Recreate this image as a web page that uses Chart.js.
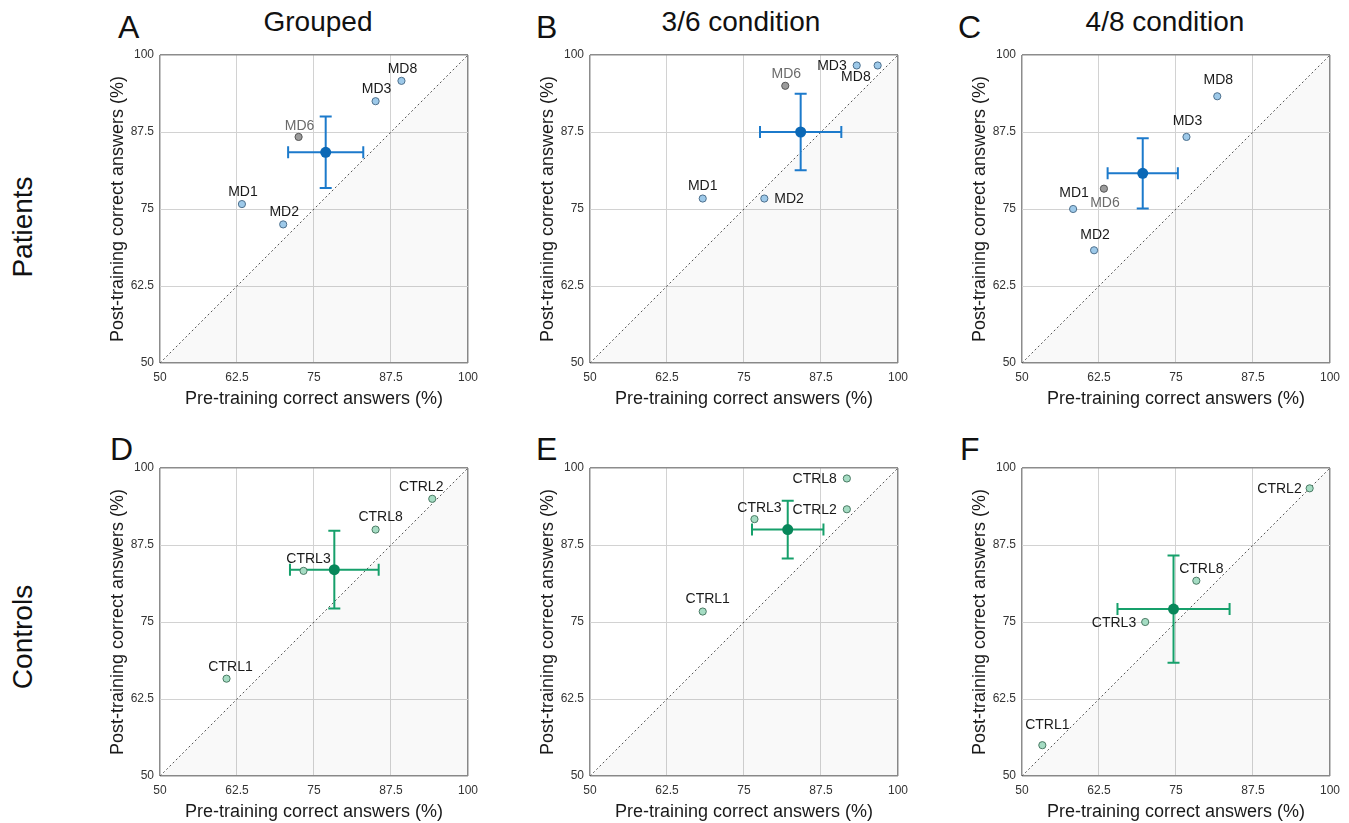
<!DOCTYPE html>
<html>
<head>
<meta charset="utf-8">
<script src="https://cdn.jsdelivr.net/npm/chart.js@4.4.1/dist/chart.umd.min.js"></script>
<style>
  body { margin: 0; background: #fff; width: 1349px; height: 823px; position: relative; overflow: hidden;
         font-family: 'Liberation Sans', Arial, sans-serif; color: #111; }
  canvas { position: absolute; }
  .letter { position: absolute; font-size: 32px; line-height: 1; }
  .title { position: absolute; width: 400px; font-size: 28px; line-height: 1; text-align: center; }
  .row { position: absolute; font-size: 28px; line-height: 1; white-space: nowrap;
         transform: translate(-50%, -50%) rotate(-90deg); }
</style>
</head>
<body>
<div class="row" style="left:23px; top:227px;">Patients</div>
<div class="row" style="left:23px; top:637px;">Controls</div>

<div class="letter" style="left:118px; top:11px;">A</div>
<div class="letter" style="left:536px; top:11px;">B</div>
<div class="letter" style="left:958px; top:11px;">C</div>
<div class="letter" style="left:110px; top:433px;">D</div>
<div class="letter" style="left:536px; top:433px;">E</div>
<div class="letter" style="left:960px; top:433px;">F</div>

<div class="title" style="left:118px; top:8px;">Grouped</div>
<div class="title" style="left:541px; top:8px;">3/6 condition</div>
<div class="title" style="left:965px; top:8px;">4/8 condition</div>

<canvas id="chartA" width="387" height="381" style="left:98px; top:35px;"></canvas>
<canvas id="chartB" width="387" height="381" style="left:528px; top:35px;"></canvas>
<canvas id="chartC" width="387" height="381" style="left:960px; top:35px;"></canvas>
<canvas id="chartD" width="387" height="381" style="left:98px; top:448px;"></canvas>
<canvas id="chartE" width="387" height="381" style="left:528px; top:448px;"></canvas>
<canvas id="chartF" width="387" height="381" style="left:960px; top:448px;"></canvas>

<script>
// axis ticks shared by every panel
const tickValues = [50, 62.5, 75, 87.5, 100];
const tickLabels = ['50', '62.5', '75', '87.5', '100'];

// patients (MD6 is shown but left out of the group mean)
const patientIds = ['MD1', 'MD2', 'MD3', 'MD6', 'MD8'];
const excludedPatient = 'MD6';
const patientPreGrouped = [63.3, 70.0, 85.0, 72.5, 89.2];
const patientPostGrouped = [75.8, 72.5, 92.5, 86.7, 95.8];
const patientPre36 = [68.3, 78.3, 93.3, 81.7, 96.7];
const patientPost36 = [76.7, 76.7, 98.3, 95.0, 98.3];
const patientPre48 = [58.3, 61.7, 76.7, 63.3, 81.7];
const patientPost48 = [75.0, 68.3, 86.7, 78.3, 93.3];

// patient group means [pre, post] and SEM [pre, post]
const patientMeanGrouped = [76.9, 84.2];
const patientSemGrouped = [6.1, 5.8];
const patientMean36 = [84.2, 87.5];
const patientSem36 = [6.6, 6.2];
const patientMean48 = [69.6, 80.8];
const patientSem48 = [5.7, 5.7];

// controls
const controlIds = ['CTRL1', 'CTRL2', 'CTRL3', 'CTRL8'];
const controlPreGrouped = [60.8, 94.2, 73.3, 85.0];
const controlPostGrouped = [65.8, 95.0, 83.3, 90.0];
const controlPre36 = [68.3, 91.7, 76.7, 91.7];
const controlPost36 = [76.7, 93.3, 91.7, 98.3];
const controlPre48 = [53.3, 96.7, 70.0, 78.3];
const controlPost48 = [55.0, 96.7, 75.0, 81.7];

const controlMeanGrouped = [78.3, 83.5];
const controlSemGrouped = [7.2, 6.3];
const controlMean36 = [82.1, 90.0];
const controlSem36 = [5.8, 4.7];
const controlMean48 = [74.6, 77.1];
const controlSem48 = [9.1, 8.7];

const FONT = "'Liberation Sans', Arial, sans-serif";

const colors = {
  patients: { point: '#9dc9e9', pointBorder: '#4d6f8c', mean: '#0b68b6', bar: '#1c7acb' },
  controls: { point: '#a5dcc3', pointBorder: '#4a7a64', mean: '#08875a', bar: '#16a06b' }
};

// label offsets per point: [dx, dy, textAlign]
const panels = [
  { id: 'chartA', group: 'patients', ids: patientIds, pre: patientPreGrouped, post: patientPostGrouped,
    mean: patientMeanGrouped, sem: patientSemGrouped,
    labels: [[1, -12, 'center'], [1, -12, 'center'], [1, -12, 'center'], [1, -11, 'center'], [1, -12, 'center']] },
  { id: 'chartB', group: 'patients', ids: patientIds, pre: patientPre36, post: patientPost36,
    mean: patientMean36, sem: patientSem36,
    labels: [[0, -12, 'center'], [10, 1, 'left'], [-10, 1, 'right'], [1, -12, 'center'], [-7, 12, 'right']] },
  { id: 'chartC', group: 'patients', ids: patientIds, pre: patientPre48, post: patientPost48,
    mean: patientMean48, sem: patientSem48,
    labels: [[1, -16, 'center'], [1, -15, 'center'], [1, -16, 'center'], [1, 14, 'center'], [1, -16, 'center']] },
  { id: 'chartD', group: 'controls', ids: controlIds, pre: controlPreGrouped, post: controlPostGrouped,
    mean: controlMeanGrouped, sem: controlSemGrouped,
    labels: [[4, -12, 'center'], [-11, -12, 'center'], [5, -12, 'center'], [5, -12, 'center']] },
  { id: 'chartE', group: 'controls', ids: controlIds, pre: controlPre36, post: controlPost36,
    mean: controlMean36, sem: controlSem36,
    labels: [[5, -12, 'center'], [-10, 1, 'right'], [5, -11, 'center'], [-10, 1, 'right']] },
  { id: 'chartF', group: 'controls', ids: controlIds, pre: controlPre48, post: controlPost48,
    mean: controlMean48, sem: controlSem48,
    labels: [[5, -20, 'center'], [-8, 1, 'right'], [-9, 1, 'right'], [5, -12, 'center']] }
];

// SEM crosses, drawn right after the diagonal so the dots sit on top
const errorBars = {
  id: 'errorBars',
  afterDatasetDraw(chart, args) {
    const ds = chart.data.datasets[args.index];
    if (ds.role !== 'diagonal') return;
    const p = chart.options.plugins.errorBars;
    const x = chart.scales.x, y = chart.scales.y;
    const cx = x.getPixelForValue(p.mean[0]), cy = y.getPixelForValue(p.mean[1]);
    const x0 = x.getPixelForValue(p.mean[0] - p.sem[0]), x1 = x.getPixelForValue(p.mean[0] + p.sem[0]);
    const y0 = y.getPixelForValue(p.mean[1] - p.sem[1]), y1 = y.getPixelForValue(p.mean[1] + p.sem[1]);
    const cap = 6;
    const ctx = chart.ctx;
    ctx.save();
    ctx.strokeStyle = p.color;
    ctx.lineWidth = 2;
    ctx.beginPath();
    ctx.moveTo(x0, cy); ctx.lineTo(x1, cy);
    ctx.moveTo(cx, y0); ctx.lineTo(cx, y1);
    ctx.moveTo(x0, cy - cap); ctx.lineTo(x0, cy + cap);
    ctx.moveTo(x1, cy - cap); ctx.lineTo(x1, cy + cap);
    ctx.moveTo(cx - cap, y0); ctx.lineTo(cx + cap, y0);
    ctx.moveTo(cx - cap, y1); ctx.lineTo(cx + cap, y1);
    ctx.stroke();
    ctx.restore();
  }
};

// subject names next to their dots
const pointLabels = {
  id: 'pointLabels',
  afterDatasetsDraw(chart) {
    const idx = chart.data.datasets.findIndex(d => d.role === 'subjects');
    const meta = chart.getDatasetMeta(idx);
    const p = chart.options.plugins.pointLabels;
    const ctx = chart.ctx;
    ctx.save();
    ctx.font = '14px ' + FONT;
    ctx.textBaseline = 'middle';
    meta.data.forEach((el, i) => {
      const [dx, dy, align] = p.offsets[i];
      ctx.textAlign = align;
      ctx.fillStyle = p.names[i] === excludedPatient ? '#6b6b6b' : '#1a1a1a';
      ctx.fillText(p.names[i], el.x + dx, el.y + dy);
    });
    ctx.restore();
  }
};

function axis(titleText, isX) {
  return {
    type: 'linear',
    min: 50,
    max: 100,
    afterBuildTicks: scale => { scale.ticks = tickValues.map(v => ({ value: v })); },
    afterFit: scale => { if (isX) scale.height = 53; else scale.width = 62; },
    ticks: {
      callback: (v, i) => tickLabels[i],
      font: { family: FONT, size: 12 },
      color: '#333',
      padding: isX ? 7 : 6,
      maxRotation: 0,
      autoSkip: false
    },
    grid: {
      drawTicks: false,
      color: c => (c.tick && (c.tick.value === 50 || c.tick.value === 100)) ? '#8c8c8c' : '#d2d2d2',
      lineWidth: c => (c.tick && (c.tick.value === 50 || c.tick.value === 100)) ? 1.5 : 1
    },
    border: { display: false },
    title: {
      display: true,
      text: titleText,
      color: '#1a1a1a',
      font: { family: FONT, size: 18 },
      padding: isX ? { top: 0, bottom: 6 } : { top: 9, bottom: 0 }
    }
  };
}

panels.forEach(panel => {
  const c = colors[panel.group];
  const subjects = panel.ids.map((name, i) => ({ x: panel.pre[i], y: panel.post[i] }));
  new Chart(document.getElementById(panel.id), {
    type: 'scatter',
    data: {
      datasets: [
        {
          role: 'diagonal',
          type: 'line',
          data: [{ x: 50, y: 50 }, { x: 100, y: 100 }],
          borderColor: '#555',
          borderWidth: 1,
          borderDash: [2, 2.5],
          backgroundColor: 'rgba(0, 0, 0, 0.025)',
          fill: 'start',
          pointRadius: 0,
          order: 3
        },
        {
          role: 'subjects',
          data: subjects,
          pointRadius: 3.6,
          pointBorderWidth: 1,
          pointBackgroundColor: ctx => panel.ids[ctx.dataIndex] === excludedPatient ? '#9b9b9b' : c.point,
          pointBorderColor: ctx => panel.ids[ctx.dataIndex] === excludedPatient ? '#555' : c.pointBorder,
          order: 2
        },
        {
          role: 'mean',
          data: [{ x: panel.mean[0], y: panel.mean[1] }],
          pointRadius: 5.5,
          pointBorderWidth: 0,
          pointBackgroundColor: c.mean,
          order: 1
        }
      ]
    },
    options: {
      responsive: false,
      animation: false,
      events: [],
      layout: { padding: { top: 20, right: 14, left: 0, bottom: 0 } },
      plugins: {
        legend: { display: false },
        tooltip: { enabled: false },
        errorBars: { mean: panel.mean, sem: panel.sem, color: c.bar },
        pointLabels: { names: panel.ids, offsets: panel.labels }
      },
      scales: {
        x: axis('Pre-training correct answers (%)', true),
        y: axis('Post-training correct answers (%)', false)
      }
    },
    plugins: [errorBars, pointLabels]
  });
});
</script>
</body>
</html>
